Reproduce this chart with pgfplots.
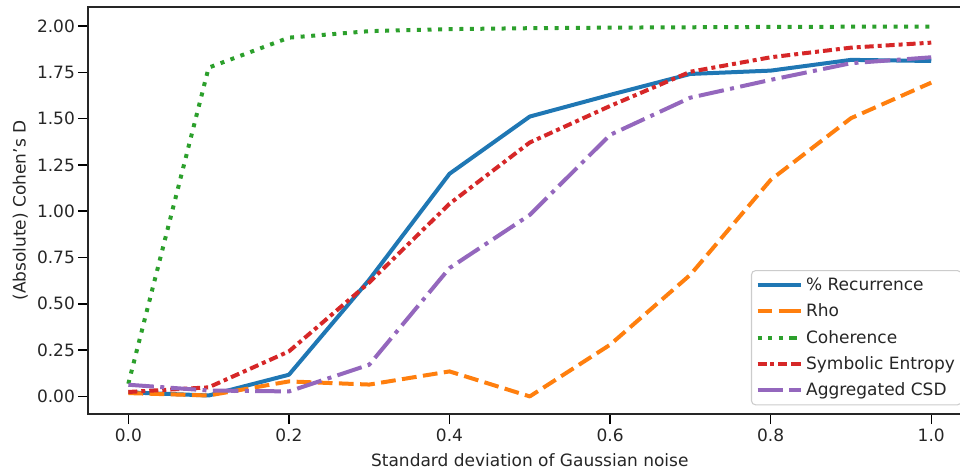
\documentclass[border=0pt]{standalone}
\usepackage{pgfplots}
\pgfplotsset{compat=1.18}
\usepackage{fontspec}
\setmainfont{DejaVu Sans}
\definecolor{c1}{HTML}{1F77B4}
\definecolor{c2}{HTML}{FF7F0E}
\definecolor{c3}{HTML}{2CA02C}
\definecolor{c4}{HTML}{D62728}
\definecolor{c5}{HTML}{9467BD}
\newcommand{\fs}{\fontsize{12.75}{15}\selectfont}
\begin{document}
\begin{tikzpicture}
\begin{axis}[
  scale only axis,
  width=662.9pt, height=305.5pt,
  xmin=-0.05, xmax=1.05, ymin=-0.095, ymax=2.1025,
  xtick={0,0.2,0.4,0.6,0.8,1.0},
  ytick={0,0.25,0.5,0.75,1,1.25,1.5,1.75,2},
  xticklabels={0.0,0.2,0.4,0.6,0.8,1.0},
  yticklabels={0.00,0.25,0.50,0.75,1.00,1.25,1.50,1.75,2.00},
  xtick pos=bottom, ytick pos=left,
  tick align=outside,
  major tick length=7.5pt,
  every tick/.style={black, line width=1.1pt},
  axis line style={line width=1.4pt, black!85},
  tick label style={font=\fs, text=black!85},
  label style={font=\fs, text=black!85},
  /pgf/number format/assume math mode=true,
  xlabel={Standard deviation of Gaussian noise},
  ylabel={(Absolute) Cohen's D},
  xlabel style={at={(ticklabel cs:0.5)}, anchor=north, yshift=-2pt},
  ylabel style={at={(ticklabel cs:0.5)}, anchor=south, yshift=0pt},
  yticklabel style={xshift=1pt},
  legend cell align=left,
  legend style={at={(1,0)}, anchor=south east, xshift=-7pt, yshift=6.5pt,
    font=\fs, text=black!85, draw=black!20, rounded corners=3pt,
    line width=0.8pt, inner xsep=3pt, inner ysep=3.5pt, row sep=4.5pt},
  legend image code/.code={\draw[#1] (0pt,0pt) -- (27pt,0pt); \path (27pt,0pt) -- (33pt,0pt);},
  every axis plot/.append style={line width=3pt, line join=round},
]
\addplot[c1, solid] coordinates {(0,0.022)(0.1,0.005)(0.2,0.117)(0.3,0.63)(0.4,1.202)(0.5,1.511)(0.6,1.628)(0.7,1.741)(0.8,1.759)(0.9,1.817)(1.0,1.811)};
\addlegendentry{\% Recurrence}
\addplot[c2, dash pattern=on 11.1pt off 4.8pt] coordinates {(0,0.018)(0.1,0.005)(0.2,0.081)(0.3,0.064)(0.4,0.135)(0.5,0.0)(0.6,0.279)(0.7,0.657)(0.8,1.169)(0.9,1.502)(1.0,1.694)};
\addlegendentry{Rho}
\addplot[c3, dash pattern=on 3pt off 4.95pt] coordinates {(0,0.068)(0.1,1.775)(0.2,1.937)(0.3,1.972)(0.4,1.983)(0.5,1.988)(0.6,1.991)(0.7,1.993)(0.8,1.995)(0.9,1.996)(1.0,1.997)};
\addlegendentry{Coherence}
\addplot[c4, dash pattern=on 6.75pt off 3pt on 3pt off 3pt] coordinates {(0,0.024)(0.1,0.049)(0.2,0.243)(0.3,0.615)(0.4,1.04)(0.5,1.371)(0.6,1.568)(0.7,1.753)(0.8,1.831)(0.9,1.883)(1.0,1.910)};
\addlegendentry{Symbolic Entropy}
\addplot[c5, dash pattern=on 19.2pt off 4.8pt on 3pt off 4.8pt] coordinates {(0,0.063)(0.1,0.032)(0.2,0.027)(0.3,0.171)(0.4,0.693)(0.5,0.980)(0.6,1.412)(0.7,1.613)(0.8,1.709)(0.9,1.799)(1.0,1.831)};
\addlegendentry{Aggregated CSD}
\coordinate (bl) at (rel axis cs:0,0);
\coordinate (tr) at (rel axis cs:1,1);
\end{axis}
\pgfresetboundingbox
\path[use as bounding box] ([xshift=-66.2pt,yshift=-42.5pt]bl) rectangle ([xshift=-8.55pt,yshift=5.25pt]tr);
\end{tikzpicture}
\end{document}
